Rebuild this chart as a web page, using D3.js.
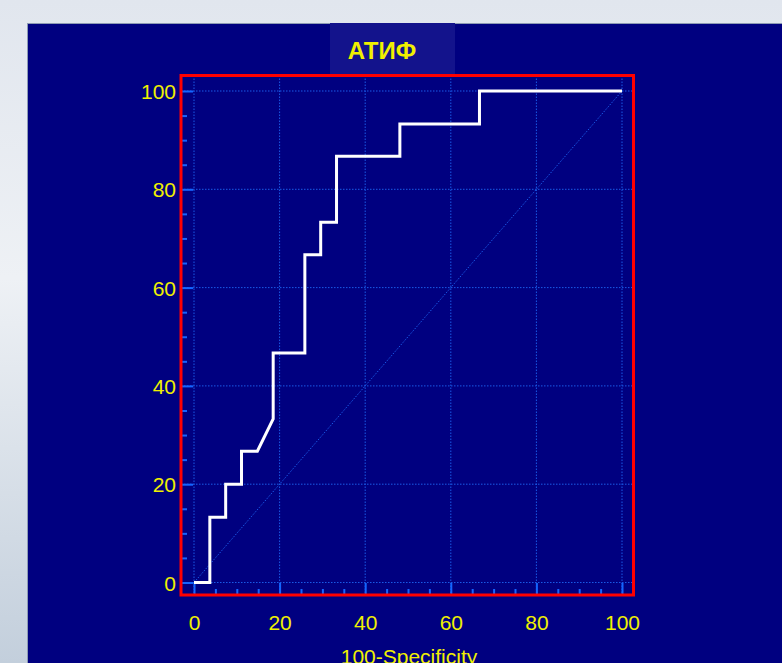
<!DOCTYPE html>
<html>
<head>
<meta charset="utf-8">
<script src="https://cdn.jsdelivr.net/npm/d3@7"></script>
<style>
  html, body { margin: 0; padding: 0; }
  body { width: 782px; height: 663px; overflow: hidden; }
  svg { display: block; }
</style>
</head>
<body>
<svg id="chart" width="782" height="663"></svg>
<script>
// ROC curve: false positive rate (100-Specificity) vs. sensitivity, in %
const fpr = [0, 3.7, 3.7, 7.4, 7.4, 11.1, 11.1, 14.8, 18.5, 18.5, 25.9, 25.9, 29.6, 29.6, 33.3, 33.3, 48.1, 48.1, 66.7, 66.7, 100];
const tpr = [0, 0, 13.3, 13.3, 20, 20, 26.7, 26.7, 33.3, 46.7, 46.7, 66.7, 66.7, 73.3, 73.3, 86.7, 86.7, 93.3, 93.3, 100, 100];

const majorTicks = [0, 20, 40, 60, 80, 100];
const minorTicks = [5, 10, 15, 25, 30, 35, 45, 50, 55, 65, 70, 75, 85, 90, 95];
const chartTitle = "АТИФ";
const xTitle = "100-Specificity";

const svg = d3.select("#chart");
const labelFont = "'Liberation Sans', Arial, sans-serif";
const yellow = "#f0f000";
const tickBlue = "#1465ff";
const gridBlue = "#1a5ae6";

// slide background
const bg = svg.append("defs").append("linearGradient")
  .attr("id", "bgGrad").attr("x1", 0).attr("y1", 0).attr("x2", 0).attr("y2", 1);
bg.append("stop").attr("offset", "0%").attr("stop-color", "#e1e6ee");
bg.append("stop").attr("offset", "42%").attr("stop-color", "#eef1f5");
bg.append("stop").attr("offset", "100%").attr("stop-color", "#c3cfdc");
svg.append("rect").attr("width", 782).attr("height", 663).attr("fill", "url(#bgGrad)");

// navy panel
svg.append("rect").attr("x", 27.5).attr("y", 23.5).attr("width", 760).attr("height", 650)
  .attr("fill", "#000080").attr("stroke", "#8d9bb4").attr("stroke-width", 1);

// title box
svg.append("rect").attr("x", 330).attr("y", 23).attr("width", 125).attr("height", 53)
  .attr("fill", "#13138c");
svg.append("text").attr("x", 382).attr("y", 58.5)
  .attr("text-anchor", "middle")
  .attr("font-family", labelFont)
  .attr("font-weight", "bold").attr("font-size", 24)
  .attr("fill", yellow).text(chartTitle);

const x = d3.scaleLinear().domain([0, 100]).range([194, 622]);
const y = d3.scaleLinear().domain([0, 100]).range([582.5, 91]);

const frame = { left: 181, right: 633.5, top: 75.5, bottom: 595 };

// dotted grid
const grid = svg.append("g").attr("stroke", gridBlue).attr("stroke-width", 1)
  .attr("stroke-dasharray", "1.5,1.5");
grid.selectAll("line.gx").data(majorTicks).join("line").attr("class", "gx")
  .attr("x1", d => x(d)).attr("x2", d => x(d))
  .attr("y1", frame.top).attr("y2", frame.bottom);
grid.selectAll("line.gy").data(majorTicks).join("line").attr("class", "gy")
  .attr("y1", d => y(d)).attr("y2", d => y(d))
  .attr("x1", frame.left).attr("x2", frame.right);

// reference diagonal
svg.append("line")
  .attr("x1", x(0)).attr("y1", y(0)).attr("x2", x(100)).attr("y2", y(100))
  .attr("stroke", gridBlue).attr("stroke-width", 1).attr("stroke-dasharray", "1.5,1.5");

// axes with inward ticks
function styleAxis(g) {
  g.select(".domain").remove();
  g.selectAll(".tick line").attr("stroke", tickBlue).attr("stroke-width", 2);
  g.selectAll(".tick text").attr("fill", yellow)
    .attr("font-family", labelFont).attr("font-size", 21);
}

svg.append("g").attr("transform", `translate(${frame.left},0)`)
  .call(d3.axisLeft(y).tickValues(minorTicks).tickSize(-6).tickFormat(""))
  .call(styleAxis);
svg.append("g").attr("transform", `translate(${frame.left},0)`)
  .call(d3.axisLeft(y).tickValues(majorTicks).tickSize(-12).tickPadding(5).tickFormat(d3.format("d")))
  .call(styleAxis)
  .call(g => g.selectAll(".tick text").attr("dy", "0.36em"));

svg.append("g").attr("transform", `translate(0,${frame.bottom})`)
  .call(d3.axisBottom(x).tickValues(minorTicks).tickSize(-6).tickFormat(""))
  .call(styleAxis);
svg.append("g").attr("transform", `translate(0,${frame.bottom})`)
  .call(d3.axisBottom(x).tickValues(majorTicks).tickSize(-12).tickPadding(20).tickFormat(d3.format("d")))
  .call(styleAxis)
  .call(g => g.selectAll(".tick text").attr("dy", "0.71em"));

// ROC curve
const pts = fpr.map((v, i) => [v, tpr[i]]);
svg.append("path").datum(pts)
  .attr("d", d3.line().x(d => x(d[0])).y(d => y(d[1])))
  .attr("fill", "none").attr("stroke", "#ffffff").attr("stroke-width", 3)
  .attr("stroke-linejoin", "miter");

// plot frame
svg.append("rect")
  .attr("x", frame.left).attr("y", frame.top)
  .attr("width", frame.right - frame.left).attr("height", frame.bottom - frame.top)
  .attr("fill", "none").attr("stroke", "#ff0000").attr("stroke-width", 3);

// x-axis title, running off the bottom edge of the slide
svg.append("text").attr("x", 409).attr("y", 664)
  .attr("text-anchor", "middle")
  .attr("font-family", labelFont).attr("font-size", 21)
  .attr("fill", yellow).text(xTitle);
</script>
</body>
</html>
